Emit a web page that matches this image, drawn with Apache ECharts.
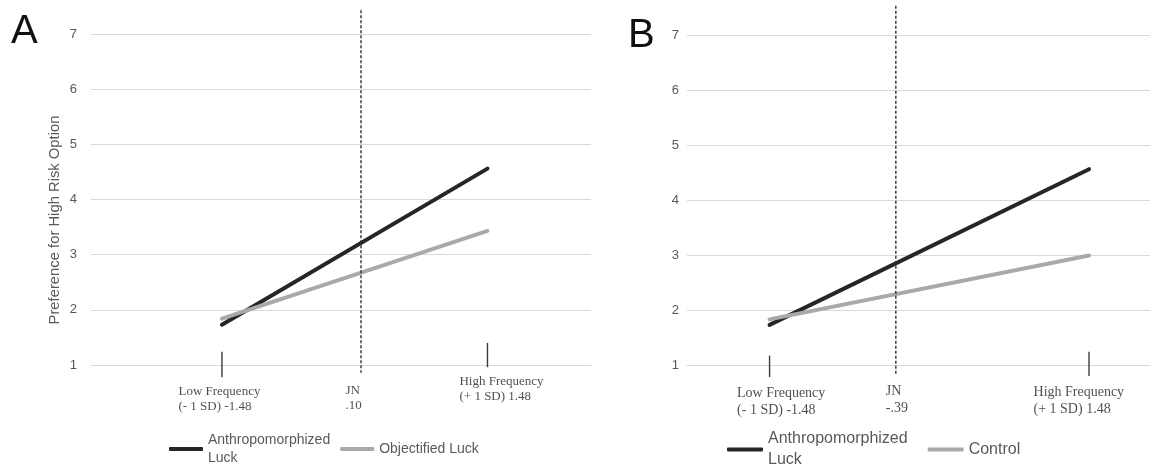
<!DOCTYPE html>
<html>
<head>
<meta charset="utf-8">
<script src="https://cdn.jsdelivr.net/npm/echarts@6/dist/echarts.min.js"></script>
<style>
html,body{margin:0;padding:0;background:#ffffff;}
#chart{width:1154px;height:476px;}
</style>
</head>
<body>
<div id="chart"></div>
<script>
// ---- data ----
const freqX = [-1.48, 1.48];                 // Low (-1 SD), High (+1 SD)
const anthroA = [1.73, 4.56];                // Panel A: Anthropomorphized Luck
const objectifiedA = [1.84, 3.43];           // Panel A: Objectified Luck
const anthroB = [1.73, 4.56];                // Panel B: Anthropomorphized Luck
const controlB = [1.83, 2.99];               // Panel B: Control
const jnDrawnX = [0.07, -0.31];              // where the JN line is drawn in A and B
const yTickLabels = ['1', '2', '3', '4', '5', '6', '7'];
const xLabelsA = ['Low Frequency\n(- 1 SD) -1.48', 'JN\n.10', 'High Frequency\n(+ 1 SD) 1.48'];
const xLabelsB = ['Low Frequency\n(- 1 SD) -1.48', 'JN\n-.39', 'High Frequency\n(+ 1 SD) 1.48'];
const seriesNames = ['Anthropomorphized Luck', 'Objectified Luck', 'Control'];
const panelLetters = ['A', 'B'];
const yTitle = 'Preference for High Risk Option';
// vertical extents (in y units) of the hand-drawn tick marks and JN lines
const tickExtA = [[1.24, 0.78], [1.40, 0.96]];
const tickExtB = [[1.17, 0.78], [1.24, 0.80]];
const jnExtA = [7.43, 0.86];
const jnExtB = [7.53, 0.82];

// ---- helpers ----
const pairs = (xs, ys) => xs.map((x, i) => [x, ys[i]]);
const GRID_C = '#d9d9d9';
const TXT_C = '#595959';
const SANS = 'Liberation Sans';
const SERIF = 'Liberation Serif';

function segRender(params, api) {
  const x = api.value(0);
  const p1 = api.coord([x, api.value(1)]);
  const p2 = api.coord([x, api.value(2)]);
  const dashed = api.value(3) === 1;
  return {
    type: 'line',
    shape: {x1: p1[0], y1: p1[1], x2: p2[0], y2: p2[1]},
    style: {stroke: dashed ? '#2e2e2e' : '#3a3a3a', lineWidth: dashed ? 1.4 : 1.4, lineDash: dashed ? [3, 2] : null}
  };
}
function segData(ticks, jnX, jnExt) {
  const d = ticks.map((t, i) => [freqX[i], t[0], t[1], 0]);
  d.push([jnX, jnExt[0], jnExt[1], 1]);
  return d;
}
function labelData(labels, jnX, offsets) {
  const xs = [freqX[0], jnX, freqX[1]];
  return xs.map((x, i) => ({
    value: [x, 1],
    label: {position: offsets[i], formatter: labels[i]}
  }));
}
function labelSeries(idx, data, fontSize, lineHeight) {
  return {
    type: 'scatter', xAxisIndex: idx, yAxisIndex: idx, silent: true,
    symbolSize: 1, itemStyle: {color: 'rgba(0,0,0,0)'},
    emphasis: {disabled: true}, z: 5,
    label: {show: true, align: 'left', verticalAlign: 'top', fontFamily: SERIF,
      fontSize: fontSize, lineHeight: lineHeight, color: '#1f1f1f'},
    data: data
  };
}
function lineSeries(idx, name, data, color) {
  return {
    type: 'line', name: name, xAxisIndex: idx, yAxisIndex: idx,
    data: data, symbol: 'none', silent: true, z: 3,
    lineStyle: {color: color, width: 4, cap: 'round'},
    itemStyle: {color: color}
  };
}
const BLACK = '#262626';
const GRAY = '#a9a9a9';

const chart = echarts.init(document.getElementById('chart'), null, {renderer: 'canvas'});
const option = {
  backgroundColor: '#ffffff',
  animation: false,
  title: [
    {text: panelLetters[0], left: 11, top: 12, padding: 0,
      textStyle: {fontFamily: SANS, fontSize: 40, fontWeight: 'normal', color: '#111111', lineHeight: 40}},
    {text: panelLetters[1], left: 628, top: 16, padding: 0,
      textStyle: {fontFamily: SANS, fontSize: 40, fontWeight: 'normal', color: '#111111', lineHeight: 40}}
  ],
  grid: [
    {left: 91, top: 34, width: 500, height: 331, containLabel: false},
    {left: 687, top: 35, width: 463, height: 330, containLabel: false}
  ],
  xAxis: [
    {type: 'value', gridIndex: 0, min: -2.94, max: 2.634,
      axisLine: {show: true, onZero: false, lineStyle: {color: GRID_C, width: 1}},
      axisTick: {show: false}, axisLabel: {show: false}, splitLine: {show: false}},
    {type: 'value', gridIndex: 1, min: -2.245, max: 2.045,
      axisLine: {show: true, onZero: false, lineStyle: {color: GRID_C, width: 1}},
      axisTick: {show: false}, axisLabel: {show: false}, splitLine: {show: false}}
  ],
  yAxis: [
    {type: 'value', gridIndex: 0, min: 1, max: 7, interval: 1,
      name: yTitle, nameLocation: 'middle', nameRotate: 90, nameGap: 29,
      nameTextStyle: {fontFamily: SANS, fontSize: 14.8, color: TXT_C, padding: [0, 41, 0, 0]},
      axisLine: {show: false}, axisTick: {show: false},
      axisLabel: {margin: 14, fontFamily: SANS, fontSize: 13, color: TXT_C,
        formatter: v => yTickLabels[Math.round(v) - 1] || ''},
      splitLine: {show: true, lineStyle: {color: GRID_C, width: 1}}},
    {type: 'value', gridIndex: 1, min: 1, max: 7, interval: 1,
      axisLine: {show: false}, axisTick: {show: false},
      axisLabel: {margin: 8, fontFamily: SANS, fontSize: 13, color: TXT_C,
        formatter: v => yTickLabels[Math.round(v) - 1] || ''},
      splitLine: {show: true, lineStyle: {color: GRID_C, width: 1}}}
  ],
  legend: [
    {left: 169, top: 422, padding: 0, itemWidth: 34, itemHeight: 4, itemGap: 10,
      icon: 'roundRect', selectedMode: false,
      textStyle: {fontFamily: SANS, fontSize: 14, lineHeight: 18, color: TXT_C},
      formatter: n => n === seriesNames[0] ? 'Anthropomorphized\nLuck' : n,
      data: [{name: seriesNames[0], textStyle: {padding: [18, 0, 0, 0]}}, {name: seriesNames[1]}]},
    {left: 727, top: 418, padding: 0, itemWidth: 36, itemHeight: 4, itemGap: 20,
      icon: 'roundRect', selectedMode: false,
      textStyle: {fontFamily: SANS, fontSize: 16, lineHeight: 21, color: TXT_C},
      formatter: n => n === seriesNames[0] ? 'Anthropomorphized\nLuck' : n,
      data: [{name: seriesNames[0], textStyle: {padding: [21, 0, 0, 0]}}, {name: seriesNames[2]}]}
  ],
  series: [
    lineSeries(0, seriesNames[0], pairs(freqX, anthroA), BLACK),
    lineSeries(0, seriesNames[1], pairs(freqX, objectifiedA), GRAY),
    {type: 'custom', xAxisIndex: 0, yAxisIndex: 0, silent: true, z: 4,
      encode: {x: 0, y: [1, 2]}, renderItem: segRender, data: segData(tickExtA, jnDrawnX[0], jnExtA)},
    labelSeries(0, labelData(xLabelsA, jnDrawnX[0], [[-43, 19.5], [-15, 19], [-27.5, 10]]), 13, 15),
    lineSeries(1, seriesNames[0], pairs(freqX, anthroB), BLACK),
    lineSeries(1, seriesNames[2], pairs(freqX, controlB), GRAY),
    {type: 'custom', xAxisIndex: 1, yAxisIndex: 1, silent: true, z: 4,
      encode: {x: 0, y: [1, 2]}, renderItem: segRender, data: segData(tickExtB, jnDrawnX[1], jnExtB)},
    labelSeries(1, labelData(xLabelsB, jnDrawnX[1], [[-32, 20], [-9.5, 18], [-55, 19]]), 14, 17)
  ]
};
chart.setOption(option);
</script>
</body>
</html>
